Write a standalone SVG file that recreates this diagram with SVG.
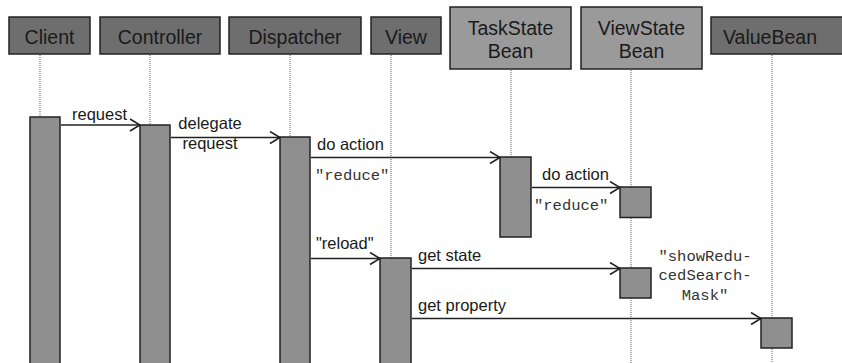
<svg xmlns="http://www.w3.org/2000/svg" width="842" height="363" viewBox="0 0 842 363">
  <style>
    .head-dark { fill: #6e6e6e; stroke: #222; stroke-width: 1.5; }
    .head-light { fill: #9a9a9a; stroke: #222; stroke-width: 1.5; }
    .head-text { font-family: "Liberation Sans", Arial, sans-serif; font-size: 19.5px; fill: #1a1a1a; text-anchor: middle; }
    .life { stroke: #7a7a7a; stroke-width: 1.2; stroke-dasharray: 1 1; fill: none; }
    .act { fill: #8f8f8f; stroke: #222; stroke-width: 1.5; }
    .msg { stroke: #222; stroke-width: 1.4; fill: none; marker-end: url(#open); }
    .label { font-family: "Liberation Sans", Arial, sans-serif; font-size: 16.5px; fill: #1a1a1a; }
    .mono { font-family: "Liberation Mono", "Courier New", monospace; font-size: 15.5px; fill: #333; }
  </style>
  <defs>
    <marker id="open" viewBox="0 0 12 14" refX="11" refY="7" markerWidth="12" markerHeight="14" markerUnits="userSpaceOnUse" orient="auto">
      <path d="M1,1 L11,7 L1,13" fill="none" stroke="#222" stroke-width="1.6"/>
    </marker>
  </defs>
  <rect width="842" height="363" fill="#fff"/>

  <!-- lifelines -->
  <g id="lifelines">
    <line class="life" x1="40" y1="55" x2="40" y2="117"/>
    <line class="life" x1="150" y1="55" x2="150" y2="125"/>
    <line class="life" x1="290" y1="55" x2="290" y2="137"/>
    <line class="life" x1="391" y1="55" x2="391" y2="258"/>
    <line class="life" x1="511" y1="70" x2="511" y2="157"/>
    <line class="life" x1="631" y1="70" x2="631" y2="363"/>
    <line class="life" x1="772" y1="55" x2="772" y2="363"/>
  </g>

  <g id="client">
    <rect class="head-dark" x="9" y="17" width="81" height="37"/>
    <text class="head-text" x="49.5" y="43.5">Client</text>
    <rect class="act" x="30" y="117" width="30" height="250"/>
  </g>
  <g id="controller">
    <rect class="head-dark" x="100" y="17" width="120" height="37"/>
    <text class="head-text" x="160" y="43.5">Controller</text>
    <rect class="act" x="140" y="125" width="30" height="242"/>
  </g>
  <g id="dispatcher">
    <rect class="head-dark" x="229" y="17" width="132" height="37"/>
    <text class="head-text" x="295" y="43.5">Dispatcher</text>
    <rect class="act" x="280" y="137" width="30" height="230"/>
  </g>
  <g id="view">
    <rect class="head-dark" x="371" y="17" width="70" height="37"/>
    <text class="head-text" x="406" y="43.5">View</text>
    <rect class="act" x="380" y="258" width="31" height="109"/>
  </g>
  <g id="taskstatebean">
    <rect class="head-light" x="450" y="7" width="121" height="62"/>
    <text class="head-text" x="510.5" y="35">TaskState</text>
    <text class="head-text" x="510.5" y="58">Bean</text>
    <rect class="act" x="500" y="157" width="31" height="80"/>
  </g>
  <g id="viewstatebean">
    <rect class="head-light" x="581" y="7" width="121" height="62"/>
    <text class="head-text" x="641.5" y="35">ViewState</text>
    <text class="head-text" x="641.5" y="58">Bean</text>
    <rect class="act" x="620" y="187" width="31" height="30.5"/>
    <rect class="act" x="620" y="268" width="31" height="30"/>
  </g>
  <g id="valuebean">
    <rect class="head-dark" x="711" y="17" width="140" height="37"/>
    <text class="head-text" x="770" y="43.5">ValueBean</text>
    <rect class="act" x="761" y="318" width="31" height="30"/>
  </g>

  <!-- messages -->
  <g id="connectors">
    <line class="msg" x1="61" y1="125" x2="140" y2="125"/>
    <line class="msg" x1="171" y1="137.5" x2="280" y2="137.5"/>
    <line class="msg" x1="311" y1="157.5" x2="500" y2="157.5"/>
    <line class="msg" x1="532" y1="187.5" x2="620" y2="187.5"/>
    <line class="msg" x1="311" y1="258.5" x2="380" y2="258.5"/>
    <line class="msg" x1="412" y1="268.5" x2="620" y2="268.5"/>
    <line class="msg" x1="412" y1="318.5" x2="761" y2="318.5"/>
  </g>

  <g id="labels">
    <text class="label" x="72" y="120">request</text>
    <text class="label" x="210" y="129" text-anchor="middle">delegate</text>
    <text class="label" x="210" y="149" text-anchor="middle">request</text>
    <text class="label" x="317" y="150">do action</text>
    <text class="mono" x="315" y="180">"reduce"</text>
    <text class="label" x="542" y="180">do action</text>
    <text class="mono" x="534" y="210">"reduce"</text>
    <text class="label" x="316" y="249">"reload"</text>
    <text class="label" x="418" y="261">get state</text>
    <text class="label" x="418" y="311">get property</text>
    <text class="mono" x="705" y="261" text-anchor="middle">"showRedu-</text>
    <text class="mono" x="705" y="280" text-anchor="middle">cedSearch-</text>
    <text class="mono" x="705" y="300" text-anchor="middle">Mask"</text>
  </g>
</svg>
